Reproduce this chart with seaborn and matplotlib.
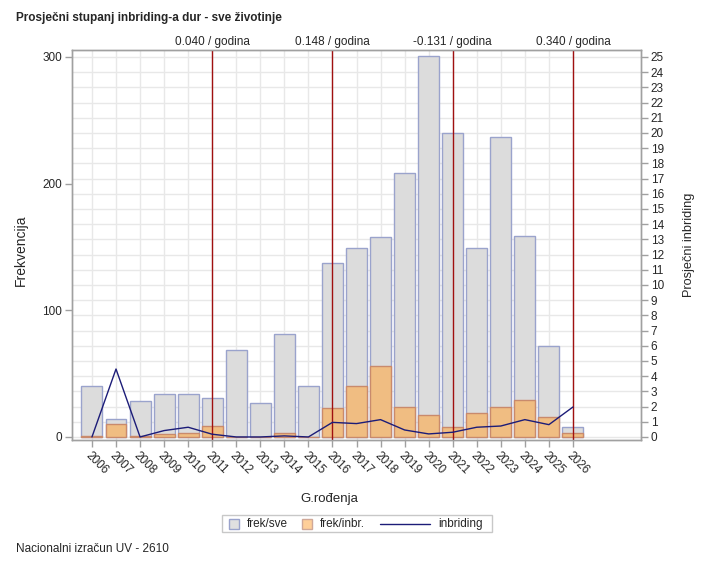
import matplotlib
matplotlib.use('Agg')
import matplotlib.pyplot as plt
import matplotlib.patches as mpatches
import matplotlib.lines as mlines
import seaborn as sns
import pandas as pd
import numpy as np

# podaci procitani sa slike
godine = [str(g) for g in range(2006, 2027)]
frek_sve = [40, 14, 28, 34, 34, 31, 69, 27, 81, 40, 137, 149, 158, 208, 301, 240, 149, 237, 159, 72, 8]
frek_inbr = [1, 10, 1, 2, 3, 9, 0, 0, 3, 0, 23, 40, 56, 24, 17, 8, 19, 24, 29, 16, 3]
inbriding = [0, 4.47, 0, 0.42, 0.64, 0.18, 0, 0, 0.07, 0, 0.96, 0.88, 1.14, 0.46, 0.2, 0.31,
             0.64, 0.72, 1.14, 0.81, 1.97]
trend_godine = ['2011', '2016', '2021', '2026']
trend_tekst = ['0.040 / godina', '0.148 / godina', '-0.131 / godina', '0.340 / godina']

df = pd.DataFrame({'godina': godine, 'sve': frek_sve, 'inbr': frek_inbr, 'inb': inbriding})
df['poz'] = np.arange(len(df))

sns.set_style('white')
plt.rcParams['font.family'] = ['Liberation Sans', 'DejaVu Sans']
plt.rcParams['font.size'] = 8.5

W, H = 718, 567
fig = plt.figure(figsize=(W / 100, H / 100), dpi=100)
ax = fig.add_axes([72 / W, 1 - 440 / H, 569 / W, 390 / H])
ax2 = ax.twinx()

sivo = '#dcdcdc'
sivi_rub = '#9aa3cc'
narancasto = '#f0bd82'
narancasti_rub = '#c98a6c'
plava = '#1c1c78'
crvena = '#a01010'

sns.barplot(data=df, x='godina', y='sve', color=sivo, width=0.87, ax=ax,
            edgecolor=sivi_rub, linewidth=1, saturation=1, zorder=2)
sns.barplot(data=df, x='godina', y='inbr', color=narancasto, width=0.87, ax=ax,
            edgecolor=narancasti_rub, linewidth=1, saturation=1, zorder=3)

sns.lineplot(data=df, x='poz', y='inb', color=plava, linewidth=1, ax=ax2, zorder=4)
if ax2.get_legend() is not None:
    ax2.get_legend().remove()

ax.set_xlim(-0.83, 22.83)
ax.set_ylim(-2.4, 305.5)
ax2.set_ylim(-2.4 / 12, 305.5 / 12)
ax2.set_xlim(-0.83, 22.83)

# mreza
for i in range(len(godine)):
    ax.axvline(i, color='#e8e8e8', linewidth=1, zorder=0)
for v in range(0, 26):
    ax.axhline(v * 12, color='#e8e8e8', linewidth=1, zorder=0)

for g, t in zip(trend_godine, trend_tekst):
    i = godine.index(g)
    ax.axvline(i, color=crvena, linewidth=1, zorder=5)
    ax.text(i, 1.006, t, transform=ax.get_xaxis_transform(), ha='center', va='bottom',
            fontsize=8.5)

ax.set_yticks([0, 100, 200, 300])
ax2.set_yticks(range(0, 26))
ax.set_xticks(range(len(godine)))
ax.set_xticklabels(godine, rotation=-45, ha='left', va='top', rotation_mode='anchor')

for a in (ax, ax2):
    for s in a.spines.values():
        s.set_color('#a0a0a0')
        s.set_linewidth(1)
ax.tick_params(axis='both', direction='out', length=5, width=1, color='#a0a0a0',
               labelsize=8.5, pad=2, left=True, bottom=True)
ax2.tick_params(axis='y', direction='out', length=5, width=1, color='#a0a0a0',
                labelsize=8.5, pad=2, right=True)

ax.set_xlabel('G.rođenja', fontsize=9.5)
ax.xaxis.set_label_coords((329 - 72) / 569, -53 / 390)
ax.set_ylabel('Frekvencija', fontsize=10, va='center')
ax.yaxis.set_label_coords((21 - 72) / 569, (440 - 250) / 390)
ax2.set_ylabel('Prosječni inbriding', fontsize=9.2, va='center')
ax2.yaxis.set_label_coords((689 - 72) / 569, (440 - 245) / 390)

fig.text(16 / W, 1 - 18 / H, 'Prosječni stupanj inbriding-a dur - sve životinje',
         fontsize=8.5, fontweight='bold', ha='left', va='center')
fig.text(16 / W, 1 - 549 / H, 'Nacionalni izračun UV - 2610', fontsize=8.5,
         ha='left', va='center')

# legenda (rucno, u pikselima slike)
tf = fig.transFigure
fig.add_artist(mpatches.Rectangle((222 / W, 1 - 532 / H), 270 / W, 17 / H, transform=tf,
                                  facecolor='white', edgecolor='#c8c8c8', linewidth=1))
fig.add_artist(mpatches.Rectangle((229 / W, 1 - 529 / H), 10 / W, 10 / H, transform=tf,
                                  facecolor='#e0e0e0', edgecolor=sivi_rub, linewidth=1))
fig.text(247 / W, 1 - 524 / H, 'frek/sve', fontsize=8.5, ha='left', va='center')
fig.add_artist(mpatches.Rectangle((302 / W, 1 - 529 / H), 10 / W, 10 / H, transform=tf,
                                  facecolor='#ffcf99', edgecolor='#d0a898', linewidth=1))
fig.text(320 / W, 1 - 524 / H, 'frek/inbr.', fontsize=8.5, ha='left', va='center')
fig.add_artist(mlines.Line2D([380 / W, 430 / W], [1 - 524 / H, 1 - 524 / H], transform=tf,
                             color=plava, linewidth=1))
fig.text(438 / W, 1 - 524 / H, 'inbriding', fontsize=8.5, ha='left', va='center')

fig.savefig('out.png', dpi=100)
